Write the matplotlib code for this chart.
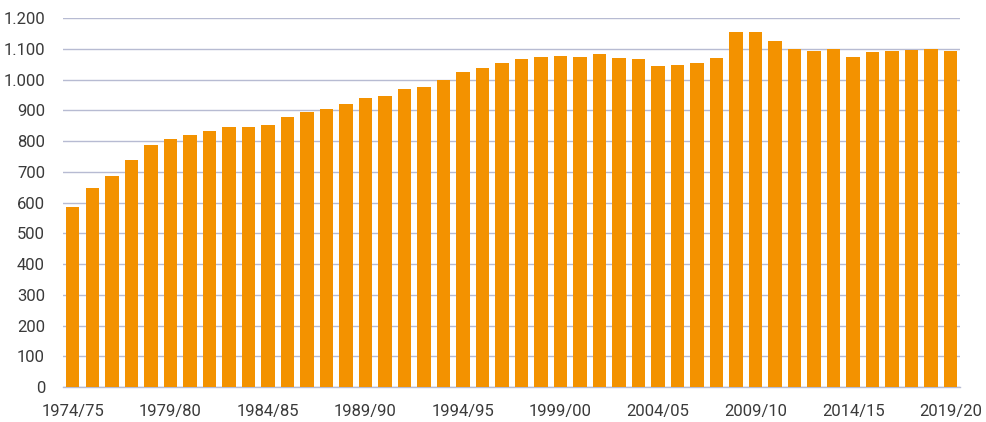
import matplotlib
matplotlib.use("Agg")
import matplotlib.pyplot as plt
from matplotlib.ticker import FuncFormatter

plt.rcParams['font.family'] = ['Roboto', 'DejaVu Sans']

years = [f"{y}/{str(y + 1)[-2:]}" for y in range(1974, 2020)]
values = [584, 647, 687, 739, 786, 808, 821, 832, 845, 846,
          852, 878, 895, 904, 921, 940, 948, 968, 976, 1000,
          1025, 1039, 1055, 1067, 1072, 1078, 1073, 1083, 1070, 1067,
          1044, 1049, 1053, 1069, 1155, 1154, 1127, 1099, 1094, 1098,
          1074, 1091, 1092, 1096, 1099, 1094]
tick_every = 5

fig = plt.figure(figsize=(9.86, 4.22), dpi=100)
ax = fig.add_axes([0.064, 0.083, 0.91, 0.874])

x = range(len(values))
ax.bar(x, values, width=0.68, color="#F39200", zorder=3)

ax.set_xlim(-0.5, len(values) - 0.5)
ax.set_ylim(0, 1200)
ax.set_yticks(range(0, 1201, 100))
ax.yaxis.set_major_formatter(FuncFormatter(lambda v, p: f"{int(v):,}".replace(",", ".")))
ax.set_xticks(list(x)[::tick_every])
ax.set_xticklabels(years[::tick_every])

ax.grid(axis="y", color="#b7bbd2", linewidth=1.0, zorder=0)
for s in ["top", "right", "left"]:
    ax.spines[s].set_visible(False)
ax.spines["bottom"].set_color("#b7bbd2")
ax.spines["bottom"].set_linewidth(1.0)
ax.tick_params(length=0, labelsize=12, labelcolor="#3a3a3a")
ax.tick_params(axis="y", pad=13)
ax.tick_params(axis="x", pad=12)

fig.savefig("out.png", dpi=100)
